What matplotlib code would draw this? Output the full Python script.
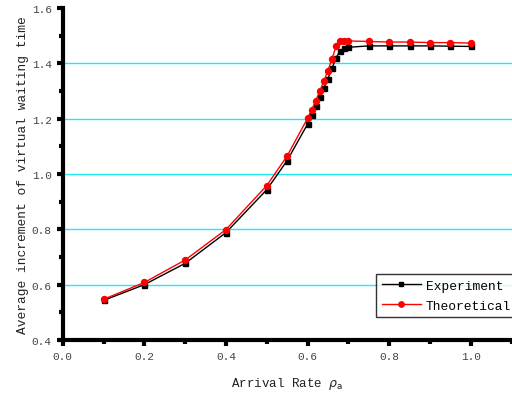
import matplotlib
matplotlib.use("Agg")
import matplotlib.pyplot as plt
from matplotlib.ticker import MultipleLocator

# Data
rho = [0.1, 0.2, 0.3, 0.4, 0.5, 0.55, 0.6, 0.61, 0.62, 0.63, 0.64, 0.65, 0.66,
       0.67, 0.68, 0.69, 0.70, 0.75, 0.80, 0.85, 0.90, 0.95, 1.0]
experiment = [0.543, 0.600, 0.677, 0.788, 0.943, 1.048, 1.180, 1.215, 1.245, 1.280,
              1.310, 1.345, 1.382, 1.420, 1.445, 1.455, 1.458, 1.463, 1.463, 1.463,
              1.463, 1.462, 1.461]
theoretical = [0.547, 0.608, 0.689, 0.799, 0.958, 1.065, 1.201, 1.232, 1.264, 1.300,
               1.335, 1.374, 1.416, 1.461, 1.481, 1.481, 1.481, 1.479, 1.477, 1.477,
               1.475, 1.475, 1.473]
labels = ["Experiment", "Theoretical"]
xticks = [0.0, 0.2, 0.4, 0.6, 0.8, 1.0]
yticks = [0.4, 0.6, 0.8, 1.0, 1.2, 1.4, 1.6]

mono = "Liberation Mono"

fig = plt.figure(figsize=(5.12, 4.02), dpi=100)
W, H = 512, 402
ax = fig.add_axes([62.7 / W, (H - 341) / H, (511.5 - 62.7) / W, (341 - 9) / H])

for y in yticks[1:-1]:
    ax.axhline(y, color="#22e8f0", lw=1.0, zorder=0)

ax.plot(rho, experiment, color="black", lw=1.0, marker="s", ms=3.6,
        mfc="black", mec="black", label=labels[0], zorder=3)
ax.plot(rho, theoretical, color="red", lw=1.0, marker="o", ms=4.3,
        mfc="red", mec="red", label=labels[1], zorder=4)

ax.set_xlim(0.0, 1.1)
ax.set_ylim(0.4, 1.6)
ax.set_xticks(xticks)
ax.set_yticks(yticks)
ax.xaxis.set_minor_locator(MultipleLocator(0.1))
ax.yaxis.set_minor_locator(MultipleLocator(0.1))
ax.set_xticklabels([f"{v:.1f}" for v in xticks])
ax.set_yticklabels([f"{v:.1f}" for v in yticks])

for s in ["top", "right"]:
    ax.spines[s].set_visible(False)
for s in ["left", "bottom"]:
    ax.spines[s].set_linewidth(3)

ax.tick_params(which="major", direction="out", length=4, width=3, pad=4,
               labelsize=8)
ax.tick_params(which="minor", direction="out", length=3, width=3)
for lab in ax.get_xticklabels() + ax.get_yticklabels():
    lab.set_fontfamily(mono)
    lab.set_color("#444444")

ax.set_xlabel(r"Arrival Rate $\rho_{\rm a}$", fontfamily=mono, fontsize=9,
              labelpad=10, color="#222222")
ax.set_ylabel("Average increment of virtual waiting time", fontfamily=mono,
              fontsize=9.3, labelpad=2, color="#222222")

leg = ax.legend(loc="upper left", bbox_to_anchor=(0.698, 0.199), frameon=True,
                fancybox=False, prop={"family": mono, "size": 9.3},
                handlelength=3.0, borderpad=0.45, labelspacing=0.6,
                handletextpad=0.4, borderaxespad=0, markerscale=0.9)
leg.get_frame().set_edgecolor("black")
leg.get_frame().set_linewidth(1.0)
leg.set_zorder(10)

fig.savefig("out.png", dpi=100)
